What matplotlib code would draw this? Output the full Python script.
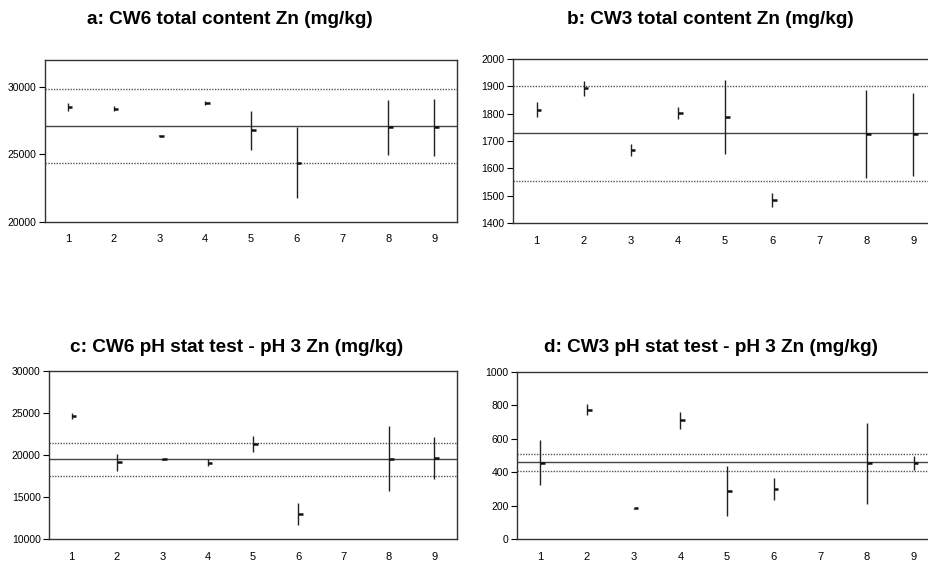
import matplotlib
matplotlib.use("Agg")
import matplotlib.pyplot as plt
import numpy as np

plt.rcParams['font.family'] = ['Liberation Sans', 'DejaVu Sans']

labs = [1, 2, 3, 4, 5, 6, 8, 9]
xticks = [1, 2, 3, 4, 5, 6, 7, 8, 9]

# panel a
a_title = "a: CW6 total content Zn (mg/kg)"
a_mean = [28500, 28400, 26400, 28800, 26800, 24400, 27000, 27000]
a_err = [300, 200, 50, 150, 1450, 2600, 2070, 2100]
a_ref = 27100
a_lo, a_hi = 24350, 29850
a_ylim = (20000, 32000)
a_yticks = [20000, 25000, 30000]

# panel b
b_title = "b: CW3 total content Zn (mg/kg)"
b_mean = [1814, 1893, 1667, 1804, 1787, 1483, 1724, 1724]
b_err = [28, 27, 23, 22, 135, 25, 161, 153]
b_ref = 1730
b_lo, b_hi = 1552, 1903
b_ylim = (1400, 2000)
b_yticks = [1400, 1500, 1600, 1700, 1800, 1900, 2000]

# panel c
c_title = "c: CW6 pH stat test - pH 3 Zn (mg/kg)"
c_mean = [24650, 19150, 19480, 19100, 21350, 13000, 19550, 19650]
c_err = [400, 1000, 100, 400, 950, 1300, 3870, 2500]
c_ref = 19500
c_lo, c_hi = 17450, 21380
c_ylim = (10000, 30000)
c_yticks = [10000, 15000, 20000, 25000, 30000]

# panel d
d_title = "d: CW3 pH stat test - pH 3 Zn (mg/kg)"
d_mean = [458, 775, 183, 711, 287, 299, 453, 456]
d_err = [135, 33, 5, 50, 152, 67, 244, 43]
d_ref = 460
d_lo, d_hi = 410, 508
d_ylim = (0, 1000)
d_yticks = [0, 200, 400, 600, 800, 1000]

W, H = 929, 562
fig = plt.figure(figsize=(W / 100, H / 100), dpi=100)


def make_ax(left, right, top, bottom):
    return fig.add_axes([left / W, 1 - bottom / H, (right - left) / W, (bottom - top) / H])


panels = [
    (make_ax(45, 457, 60, 222), a_title, a_mean, a_err, a_ref, a_lo, a_hi, a_ylim, a_yticks, 230, 20),
    (make_ax(513, 937, 59, 223), b_title, b_mean, b_err, b_ref, b_lo, b_hi, b_ylim, b_yticks, 710, 20),
    (make_ax(49, 457, 371, 539), c_title, c_mean, c_err, c_ref, c_lo, c_hi, c_ylim, c_yticks, 237, 347),
    (make_ax(517, 937, 372, 539), d_title, d_mean, d_err, d_ref, d_lo, d_hi, d_ylim, d_yticks, 711, 348),
]

for ax, title, mean, err, ref, lo, hi, ylim, yticks, tx, ty in panels:
    x = np.array(labs, dtype=float)
    m = np.array(mean, dtype=float)
    e = np.array(err, dtype=float)
    ax.set_xlim(0.5, 9.5)
    ax.set_ylim(*ylim)
    ax.axhline(ref, color='#444444', lw=1.0, zorder=1)
    ax.axhline(lo, color='#555555', lw=1.0, ls=(0, (1, 1)), zorder=1)
    ax.axhline(hi, color='#555555', lw=1.0, ls=(0, (1, 1)), zorder=1)
    ax.vlines(x, m - e, m + e, color='#222222', lw=1.0, zorder=2)
    ax.hlines(m, x, x + 0.1, color='#111111', lw=1.8, zorder=3)
    ax.set_xticks(xticks)
    ax.set_xticklabels([str(t) for t in xticks], fontsize=8)
    ax.set_yticks(yticks)
    ax.set_yticklabels([str(t) for t in yticks], fontsize=7.5)
    ax.tick_params(axis='x', length=0, pad=9)
    ax.tick_params(axis='y', length=4, width=0.8, direction='out', pad=2)
    for s in ax.spines.values():
        s.set_color('#333333')
        s.set_linewidth(1.0)
    fig.text(tx / W, 1 - ty / H, title,
             ha='center', va='center', fontsize=13.7, fontweight='bold')

fig.savefig("out.png", dpi=100)
